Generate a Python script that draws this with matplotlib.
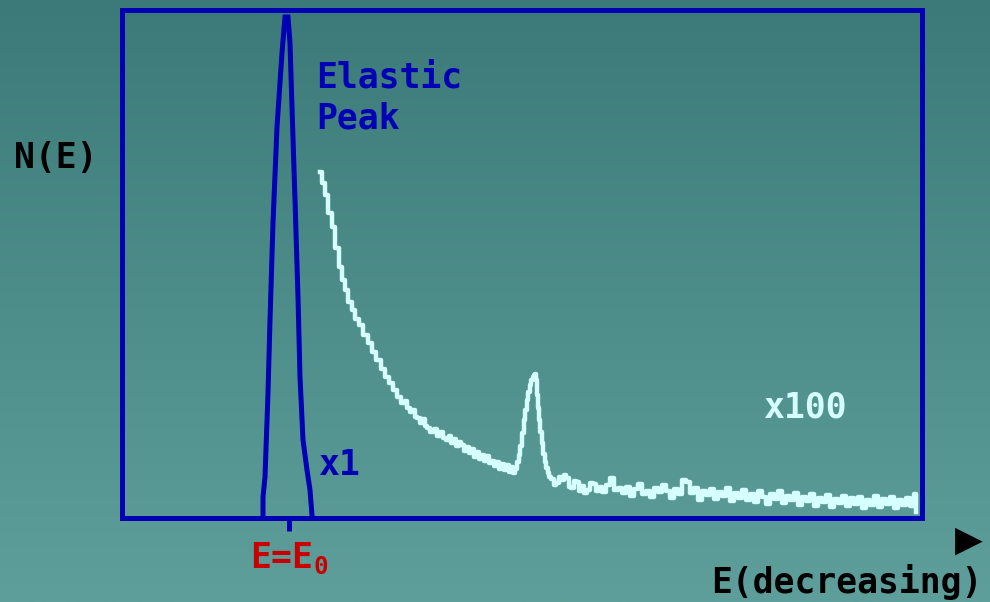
import matplotlib
matplotlib.use("Agg")
import matplotlib.pyplot as plt
import numpy as np
from matplotlib.colors import LinearSegmentedColormap

plt.rcParams["mathtext.fontset"] = "custom"
plt.rcParams["mathtext.rm"] = "DejaVu Sans Mono:bold"
plt.rcParams["mathtext.it"] = "DejaVu Sans Mono:bold"
plt.rcParams["mathtext.bf"] = "DejaVu Sans Mono:bold"
plt.rcParams["mathtext.default"] = "rm"

# ---- data (energy channel, counts) ----
elastic_energy = [141, 141, 143, 146, 148, 151, 155, 160, 163,
                  166, 168, 170, 173, 176, 178, 181, 185, 188, 190]
elastic_counts = [0, 21, 41, 125, 198, 295, 391, 465, 501,
                  501, 475, 411, 318, 221, 141, 78, 48, 28, 3]

loss_energy = [198, 201, 204, 208, 211, 215, 218, 221, 224, 228, 231, 235, 238, 243,
               248, 252, 256, 261, 265, 269, 273, 277, 281, 284, 286, 289, 291, 294,
               296, 299, 301, 304, 306, 310, 313, 316, 319, 322, 325, 328, 330, 333,
               335, 338, 340, 343, 345, 348, 350, 353, 355, 358, 360, 363, 365, 368,
               370, 373, 375, 378, 380, 383, 385, 388, 390, 392, 394, 396, 397, 399,
               401, 402, 404, 405, 407, 408, 410, 411, 412, 413, 414, 415, 416, 417,
               419, 420, 422, 423, 425, 426, 428, 430, 433, 435, 438, 440, 443, 445,
               448, 450, 453, 455, 458, 460, 463, 466, 469, 472, 475,
               478, 482, 486, 490, 494, 498, 502, 506, 510, 514, 518, 522, 526, 530,
               534, 538, 542, 546, 550, 554, 558, 562, 566, 570, 574, 578, 582, 586,
               590, 594, 598, 602, 606, 610, 614, 618, 622, 626, 630, 634, 638, 642,
               646, 650, 654, 658, 662, 666, 670, 674, 678, 682, 686, 690, 694, 698,
               702, 706, 710, 714, 718, 722, 726, 730, 734, 738, 742, 746, 750, 754,
               758, 762, 766, 770, 774, 778, 782, 786, 790, 793, 794]
loss_counts = [346, 335, 323, 305, 291, 270, 251, 238, 228, 216, 208, 199, 193, 183,
               175, 166, 158, 149, 141, 135, 128, 121, 115, 117, 110, 106, 108, 101,
               100, 95, 99, 92, 90, 86, 89, 82, 86, 80, 78, 82, 75, 79,
               72, 76, 73, 67, 71, 65, 69, 61, 66, 59, 63, 57, 62, 55,
               57, 52, 56, 49, 54, 48, 53, 46, 51, 45, 49, 56, 63, 72,
               85, 98, 108, 118, 126, 133, 138, 141, 143, 144, 138, 123, 110, 98,
               86, 75, 64, 56, 50, 45, 41, 39, 33, 35, 41, 38, 43, 40,
               31, 30, 37, 36, 27, 32, 25, 28, 35, 34, 27,
               31, 26, 33, 40, 28, 30, 25, 31, 22, 29, 34, 24, 27, 21,
               30, 26, 33, 27, 20, 29, 24, 38, 36, 25, 30, 18, 27, 23,
               29, 19, 26, 22, 30, 17, 25, 20, 28, 18, 24, 16, 27, 21,
               14, 24, 19, 27, 15, 22, 18, 25, 13, 21, 17, 24, 12, 20,
               16, 23, 11, 19, 15, 22, 12, 20, 14, 21, 10, 18, 13, 22,
               11, 19, 14, 21, 10, 18, 13, 20, 12, 24, 6]

e0_position = 167
e0_label = "E=E$_0$"

BLUE = "#0000b4"
WHITE = "#d6ffff"
RED = "#c80000"
MONO = "DejaVu Sans Mono"

fig = plt.figure(figsize=(9.9, 6.02), dpi=100)

# gradient background
bg = fig.add_axes([0, 0, 1, 1], zorder=-10)
grad = np.linspace(0, 1, 256).reshape(-1, 1)
cmap = LinearSegmentedColormap.from_list("bg", ["#3b7a78", "#5e9f9b"])
bg.imshow(grad, aspect="auto", cmap=cmap, extent=[0, 1, 0, 1], origin="upper")
bg.axis("off")

W, H = 990, 602
ax = fig.add_axes([122 / W, (H - 518) / H, 800 / W, 508 / H])
ax.set_facecolor("none")
ax.set_xlim(0, 800)
ax.set_ylim(0, 508)
for s in ax.spines.values():
    s.set_color(BLUE)
    s.set_linewidth(3.6)

ax.plot(elastic_energy, elastic_counts, color=BLUE, lw=3.6, solid_joinstyle="miter")
ax.plot(loss_energy, loss_counts, color=WHITE, lw=3.2, drawstyle="steps-mid")

ax.set_yticks([])
ax.set_xticks([e0_position])
ax.set_xticklabels([e0_label])
ax.tick_params(axis="x", length=9.5, width=3.6, color=BLUE, direction="out",
               pad=7, labelcolor=RED, labelsize=25)
for lab in ax.get_xticklabels():
    lab.set_fontfamily(MONO)
    lab.set_fontweight("bold")

def ftext(x, y, s, color, **kw):
    fig.text(x / W, 1 - y / H, s, color=color, fontsize=kw.pop("fontsize", 25),
             fontfamily=kw.pop("family", MONO), fontweight="bold", **kw)

ftext(14, 158, "N(E)", "black", ha="left", va="center")
ftext(316, 88, "Elastic", BLUE, ha="left", va="baseline")
ftext(316, 128, "Peak", BLUE, ha="left", va="baseline")
ftext(318, 475, "x1", BLUE, ha="left", va="baseline")
ftext(763, 417, "x100", WHITE, ha="left", va="baseline")
ftext(711, 593, "E(decreasing)", "black", ha="left", va="baseline")
ftext(969, 541, "\u25B6", "black", ha="center", va="center", fontsize=26,
      family="DejaVu Sans")

fig.savefig("out.png", dpi=100)
